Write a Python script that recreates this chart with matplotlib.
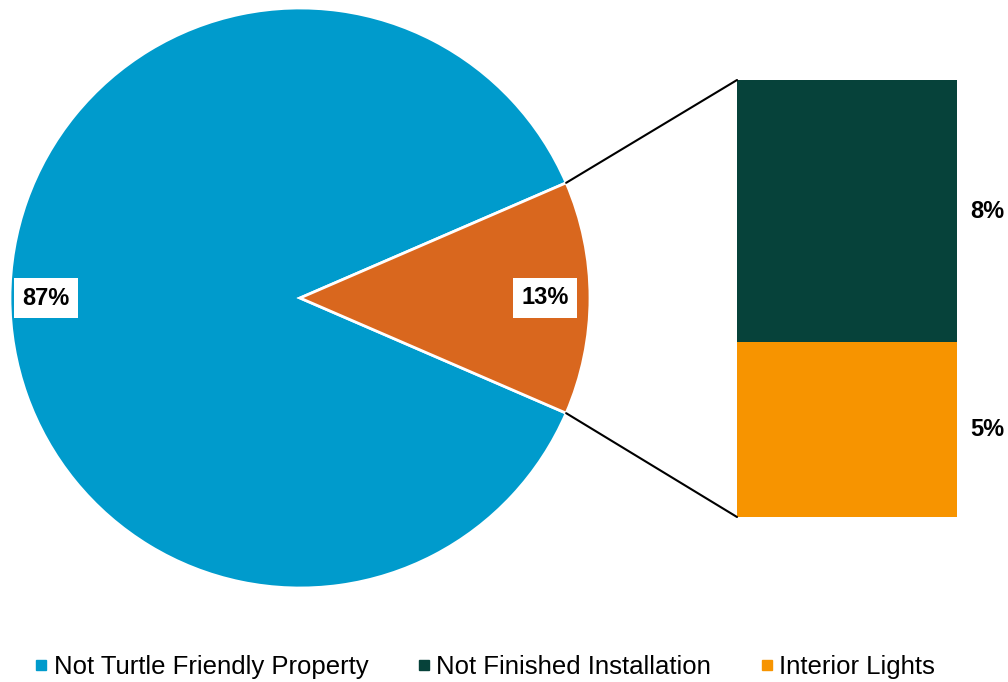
import matplotlib.pyplot as plt
from matplotlib.patches import ConnectionPatch
from matplotlib.lines import Line2D
import numpy as np

plt.rcParams['font.family'] = ['Liberation Sans', 'DejaVu Sans']

# ---------------------------------------------------------------------------
# DATA
# ---------------------------------------------------------------------------
pie_labels = ["Not Turtle Friendly Property", "Other"]
pie_values = [87, 13]
pie_colors = ["#009BCC", "#D9671E"]

bar_labels = ["Interior Lights", "Not Finished Installation"]
bar_values = [5.2, 7.8]
bar_colors = ["#F79400", "#06423A"]

legend_labels = ["Not Turtle Friendly Property", "Not Finished Installation", "Interior Lights"]
legend_colors = ["#009BCC", "#06423A", "#F79400"]

# ---------------------------------------------------------------------------
# FIGURE
# ---------------------------------------------------------------------------
W, H = 1008, 682
fig = plt.figure(figsize=(W / 100, H / 100), dpi=100)

# pie axes: centre (300,298), radius 290 px
ax_pie = fig.add_axes([10 / W, (H - 588) / H, 580 / W, 580 / H])
half = 360 * pie_values[1] / sum(pie_values) / 2
wedges, _ = ax_pie.pie(
    pie_values, colors=pie_colors, startangle=half, radius=1,
    wedgeprops=dict(edgecolor="white", linewidth=2),
)
# percent labels, placed along each wedge's mid angle
label_dist = [0.875, 0.845]
for w, val, d in zip(wedges, pie_values, label_dist):
    ang = np.radians((w.theta1 + w.theta2) / 2)
    ax_pie.text(d * np.cos(ang), d * np.sin(ang), f"{val}%", ha="center", va="center",
                fontsize=17, fontweight="bold",
                bbox=dict(facecolor="white", edgecolor="none", pad=6))
ax_pie.set_xlim(-1, 1)
ax_pie.set_ylim(-1, 1)
ax_pie.set_aspect("equal")

# bar axes: x 737..957, y 80..517
ax_bar = fig.add_axes([737 / W, (H - 517) / H, 220 / W, 437 / H])
bottom = 0
for val, col in zip(bar_values, bar_colors):
    ax_bar.bar(0, val, width=1, bottom=bottom, color=col, edgecolor="none")
    ax_bar.text(1.14, bottom + val / 2, f"{val:.0f}%", transform=ax_bar.get_yaxis_transform(),
                ha="center", va="center", fontsize=17, fontweight="bold")
    bottom += val
ax_bar.set_xlim(-0.5, 0.5)
ax_bar.set_ylim(0, sum(bar_values))
ax_bar.axis("off")

# connector lines
theta = np.radians(half)
for sgn, ybar in [(1, sum(bar_values)), (-1, 0)]:
    con = ConnectionPatch(xyA=(np.cos(theta), sgn * np.sin(theta)), coordsA=ax_pie.transData,
                          xyB=(-0.5, ybar), coordsB=ax_bar.transData,
                          color="black", linewidth=1.5)
    fig.add_artist(con)

# legend
handles = [Line2D([], [], marker="s", linestyle="none", markersize=7,
                  markerfacecolor=c, markeredgecolor=c) for c in legend_colors]
fig.legend(handles, legend_labels, loc="center", bbox_to_anchor=(0.481, (H - 667) / H),
           ncol=3, frameon=False, fontsize=18.5, handlelength=0.5,
           handletextpad=0.25, columnspacing=1.9)

fig.savefig("out.png", dpi=100)
